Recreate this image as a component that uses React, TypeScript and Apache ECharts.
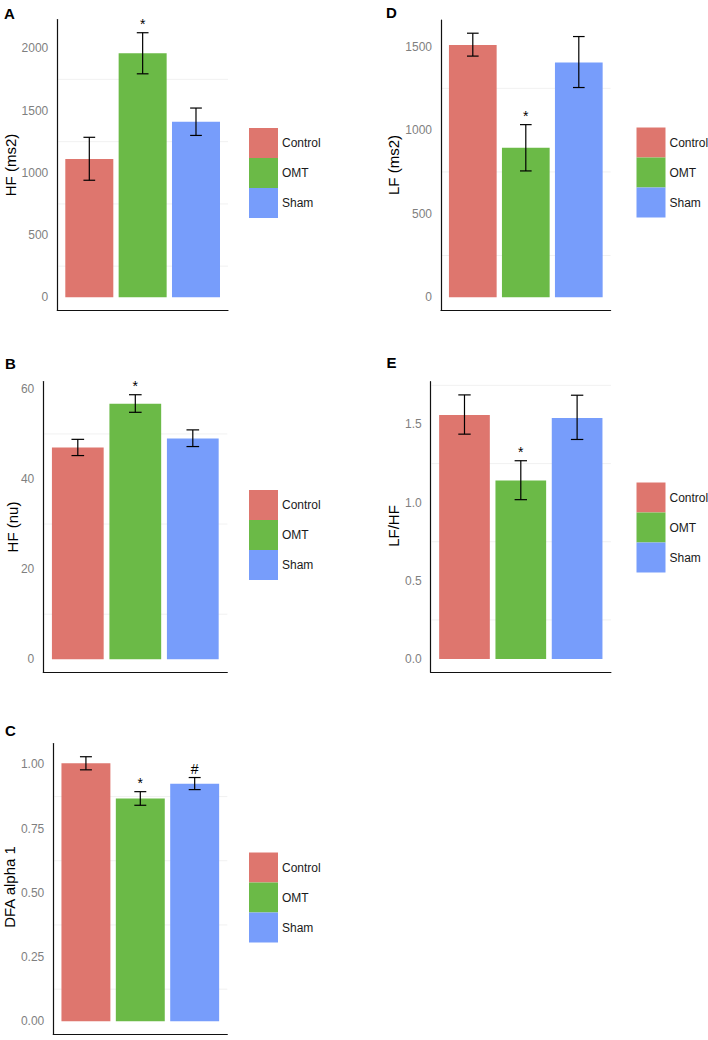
import React, { useEffect, useRef } from "react";
import * as echarts from "echarts";

// ---------- data ----------
const categories = ["Control", "OMT", "Sham"];
const barColors = ["#DE766E", "#6BBA47", "#779DFB"];

// Panel A: HF (ms2)
const hfMs2Mean = [1110, 1960, 1410];
const hfMs2Lo = [940, 1795, 1300];
const hfMs2Hi = [1285, 2125, 1520];
const hfMs2Sig = ["", "*", ""];
const hfMs2Ticks = [0, 500, 1000, 1500, 2000];
const hfMs2Grid = [250, 750, 1250, 1750];

// Panel B: HF (nu)
const hfNuMean = [47.0, 56.7, 49.0];
const hfNuLo = [45.2, 54.8, 47.2];
const hfNuHi = [48.8, 58.7, 50.9];
const hfNuSig = ["", "*", ""];
const hfNuTicks = [0, 20, 40, 60];
const hfNuGrid = [10, 30, 50];

// Panel C: DFA alpha 1
const dfaMean = [1.005, 0.867, 0.925];
const dfaLo = [0.979, 0.841, 0.902];
const dfaHi = [1.03, 0.894, 0.949];
const dfaSig = ["", "*", "#"];
const dfaTicks = [0, 0.25, 0.5, 0.75, 1.0];
const dfaGrid = [0.125, 0.375, 0.625, 0.875];

// Panel D: LF (ms2)
const lfMs2Mean = [1510, 894, 1405];
const lfMs2Lo = [1443, 756, 1255];
const lfMs2Hi = [1580, 1033, 1560];
const lfMs2Sig = ["", "*", ""];
const lfMs2Ticks = [0, 500, 1000, 1500];
const lfMs2Grid = [250, 750, 1250];

// Panel E: LF/HF
const lfhfMean = [1.561, 1.142, 1.542];
const lfhfLo = [1.438, 1.019, 1.404];
const lfhfHi = [1.689, 1.268, 1.687];
const lfhfSig = ["", "*", ""];
const lfhfTicks = [0, 0.5, 1.0, 1.5];
const lfhfGrid = [0.25, 0.75, 1.25, 1.75];

// ---------- layout ----------
const X_MIN = 0.4;
const X_MAX = 3.6;
const FONT = "'Liberation Sans', Arial, Helvetica, sans-serif";

const panels = [
  { letter: "A", title: "HF (ms2)", mean: hfMs2Mean, lo: hfMs2Lo, hi: hfMs2Hi, sig: hfMs2Sig, ticks: hfMs2Ticks, grid: hfMs2Grid, dec: 0,
    box: { left: 57.3, top: 19.5, width: 170.7, height: 291 }, titlePos: [10.5, 165], letterPos: [4, 13], legendPos: [249, 128] },
  { letter: "B", title: "HF (nu)", mean: hfNuMean, lo: hfNuLo, hi: hfNuHi, sig: hfNuSig, ticks: hfNuTicks, grid: hfNuGrid, dec: 0,
    box: { left: 43.3, top: 381.5, width: 184, height: 291 }, titlePos: [12.5, 527], letterPos: [5, 363], legendPos: [249, 490] },
  { letter: "C", title: "DFA alpha 1", mean: dfaMean, lo: dfaLo, hi: dfaHi, sig: dfaSig, ticks: dfaTicks, grid: dfaGrid, dec: 2,
    box: { left: 53.3, top: 743.5, width: 174, height: 291 }, titlePos: [9.5, 887], letterPos: [5, 730], legendPos: [249, 852.5] },
  { letter: "D", title: "LF (ms2)", mean: lfMs2Mean, lo: lfMs2Lo, hi: lfMs2Hi, sig: lfMs2Sig, ticks: lfMs2Ticks, grid: lfMs2Grid, dec: 0,
    box: { left: 441, top: 20, width: 169.6, height: 290.5 }, titlePos: [393.5, 165], letterPos: [386, 12], legendPos: [636.5, 127.5] },
  { letter: "E", title: "LF/HF", mean: lfhfMean, lo: lfhfLo, hi: lfhfHi, sig: lfhfSig, ticks: lfhfTicks, grid: lfhfGrid, dec: 1,
    box: { left: 430.7, top: 381.7, width: 180.2, height: 290.5 }, titlePos: [393, 526], letterPos: [386.5, 362], legendPos: [636.5, 482.5] },
];

function buildOption() {
  const grid: any[] = [];
  const xAxis: any[] = [];
  const yAxis: any[] = [];
  const series: any[] = [];
  const legend: any[] = [];
  const graphic: any[] = [];

  panels.forEach((p, pi) => {
    const top = Math.max(...p.hi);
    const yMax = top * 1.05;
    const yMin = -top * 0.05;
    grid.push({ ...p.box, containLabel: false, outerBoundsMode: "none" });
    xAxis.push({
      gridIndex: pi, type: "value", min: X_MIN, max: X_MAX,
      axisLine: { show: true, onZero: false, lineStyle: { color: "#111", width: 1.2 } },
      axisTick: { show: false }, axisLabel: { show: false }, splitLine: { show: false },
    });
    yAxis.push({
      gridIndex: pi, type: "value", min: yMin, max: yMax,
      axisLine: { show: true, onZero: false, lineStyle: { color: "#111", width: 1.2 } },
      axisTick: { show: false },
      splitLine: { show: false },
      axisLabel: {
        show: true, customValues: p.ticks, color: "#7f7f7f", fontSize: 12, fontFamily: FONT, margin: 9,
        formatter: (v: number) => v.toFixed(p.dec),
      },
    });
    const bw = (p.box.width / (X_MAX - X_MIN)) * 0.9;
    // grid lines (behind bars)
    series.push({
      type: "custom", xAxisIndex: pi, yAxisIndex: pi, z: 0, silent: true,
      data: p.grid.map((v) => [2, v]),
      encode: { x: 0, y: 1 },
      renderItem: (params: any, api: any) => {
        const v = api.value(1);
        const a = api.coord([X_MIN, v]);
        const b = api.coord([X_MAX, v]);
        return { type: "line", shape: { x1: a[0] + 1, y1: a[1], x2: b[0], y2: b[1] }, style: { stroke: "#eeeeee", lineWidth: 0.8 } };
      },
    });
    categories.forEach((c, ci) => {
      series.push({
        type: "bar", name: c, xAxisIndex: pi, yAxisIndex: pi, z: 2,
        barWidth: bw, barGap: "-100%",
        itemStyle: { color: barColors[ci] },
        data: [[ci + 1, p.mean[ci]]],
      });
    });
    series.push({
      type: "custom", xAxisIndex: pi, yAxisIndex: pi, z: 5, silent: true,
      data: categories.map((c, ci) => [ci + 1, p.lo[ci], p.hi[ci]]),
      encode: { x: 0, y: [1, 2] },
      renderItem: (params: any, api: any) => {
        const x = api.value(0);
        const pl = api.coord([x, api.value(1)]);
        const ph = api.coord([x, api.value(2)]);
        const half = api.size([0.11, 0])[0];
        const st = { stroke: "#000", lineWidth: 1.2 };
        const children: any[] = [
          { type: "line", shape: { x1: ph[0], y1: ph[1], x2: pl[0], y2: pl[1] }, style: st },
          { type: "line", shape: { x1: ph[0] - half, y1: ph[1], x2: ph[0] + half, y2: ph[1] }, style: st },
          { type: "line", shape: { x1: pl[0] - half, y1: pl[1], x2: pl[0] + half, y2: pl[1] }, style: st },
        ];
        const s = p.sig[params.dataIndex];
        if (s) {
          children.push({
            type: "text", x: ph[0], y: ph[1] - 2,
            style: { text: s, align: "center", verticalAlign: "bottom", fontSize: 14, fontFamily: FONT, fill: "#000" },
          });
        }
        return { type: "group", children };
      },
    });
    legend.push({
      orient: "vertical", left: p.legendPos[0], top: p.legendPos[1], padding: 0,
      itemWidth: 29, itemHeight: 30, itemGap: 0, icon: "rect", selectedMode: false,
      data: categories,
      textStyle: { fontSize: 12, fontFamily: FONT, color: "#1a1a1a", padding: [0, 0, 0, -1] },
    });
    graphic.push({
      type: "text", x: p.titlePos[0], y: p.titlePos[1], rotation: Math.PI / 2,
      style: { text: p.title, align: "center", verticalAlign: "middle", fontSize: 15, fontFamily: FONT, fill: "#000" },
    });
    graphic.push({
      type: "text", x: p.letterPos[0], y: p.letterPos[1],
      style: { text: p.letter, align: "left", verticalAlign: "middle", fontSize: 15, fontWeight: "bold", fontFamily: FONT, fill: "#000" },
    });
  });

  return {
    animation: false,
    backgroundColor: "#ffffff",
    grid, xAxis, yAxis, series, legend, graphic,
  };
}

export default function App() {
  const ref = useRef<HTMLDivElement>(null);
  useEffect(() => {
    if (!ref.current) return;
    const chart = echarts.init(ref.current, null, { renderer: "svg" });
    chart.setOption(buildOption() as any);
    return () => chart.dispose();
  }, []);
  return (
    <div
      ref={ref}
      style={{ position: "absolute", left: 0, top: 0, width: 708, height: 1040, background: "#fff" }}
    />
  );
}
